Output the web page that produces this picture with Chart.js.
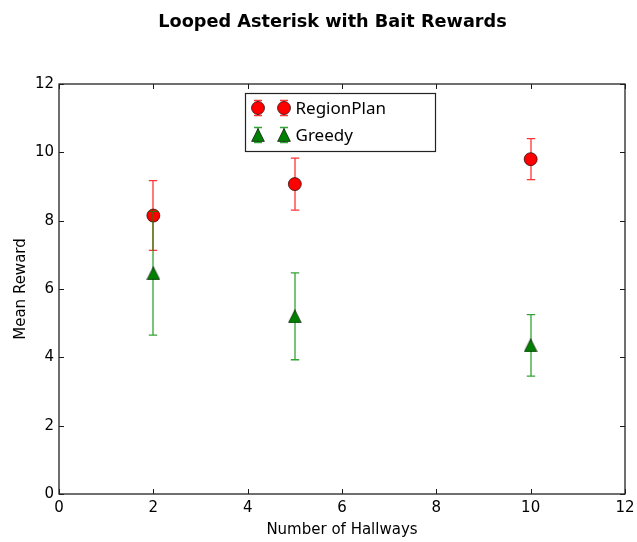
<!DOCTYPE html>
<html>
<head>
<meta charset="utf-8">
<title>Looped Asterisk with Bait Rewards</title>
<script src="https://cdn.jsdelivr.net/npm/chart.js"></script>
<style>
    html, body { margin: 0; padding: 0; background: #ffffff; }
    canvas { display: block; }
</style>
</head>
<body>
<canvas id="reward-chart" width="637" height="542"></canvas>
<script>
// Mean reward per hallway count, with error bar half-widths
const hallways = [2, 5, 10];
const regionPlanMean = [8.15, 9.07, 9.80];
const regionPlanErr = [1.02, 0.76, 0.60];
const greedyMean = [6.46, 5.20, 4.35];
const greedyErr = [1.81, 1.27, 0.90];

const xTickValues = [0, 2, 4, 6, 8, 10, 12];
const yTickValues = [0, 2, 4, 6, 8, 10, 12];

const chartTitle = 'Looped Asterisk with Bait Rewards';
const seriesNames = ['RegionPlan', 'Greedy'];

const TICK_FONT = 'DejaVu Sans';

// matplotlib-style "^" marker, centred on its bounding box
function makeTriangle(size, fill, stroke) {
    const c = document.createElement('canvas');
    c.width = size;
    c.height = size;
    const g = c.getContext('2d');
    g.beginPath();
    g.moveTo(size / 2, 0.6);
    g.lineTo(size - 0.6, size - 0.6);
    g.lineTo(0.6, size - 0.6);
    g.closePath();
    g.fillStyle = fill;
    g.fill();
    g.lineWidth = 0.8;
    g.strokeStyle = stroke;
    g.stroke();
    return c;
}

const greedyMarker = makeTriangle(14, '#008000', 'rgba(0,0,0,0.8)');

function toPoints(xs, ys) {
    return xs.map((x, i) => ({ x: x, y: ys[i] }));
}

function drawCircle(ctx, x, y, r, fill, stroke) {
    ctx.beginPath();
    ctx.arc(x, y, r, 0, Math.PI * 2);
    ctx.fillStyle = fill;
    ctx.fill();
    ctx.lineWidth = 0.8;
    ctx.strokeStyle = stroke;
    ctx.stroke();
}

function drawErrorBar(ctx, x, top, bottom, cap, color) {
    const px = Math.round(x);
    ctx.strokeStyle = color;
    ctx.lineWidth = 1.3;
    ctx.beginPath();
    ctx.moveTo(px, top);
    ctx.lineTo(px, bottom);
    ctx.moveTo(px - cap, top);
    ctx.lineTo(px + cap, top);
    ctx.moveTo(px - cap, bottom);
    ctx.lineTo(px + cap, bottom);
    ctx.stroke();
}

// Error bars go under each dataset's own markers
const errorBars = {
    id: 'errorBars',
    beforeDatasetDraw(chart, args) {
        const ds = chart.data.datasets[args.index];
        if (!ds.errors) return;
        const { x, y } = chart.scales;
        const ctx = chart.ctx;
        ctx.save();
        ds.data.forEach((pt, i) => {
            const px = x.getPixelForValue(pt.x);
            const top = y.getPixelForValue(pt.y + ds.errors[i]);
            const bottom = y.getPixelForValue(pt.y - ds.errors[i]);
            drawErrorBar(ctx, px, top, bottom, 4.2, ds.errorColor);
        });
        ctx.restore();
    }
};

// Boxed axes with inward ticks, the title and the legend
const frame = {
    id: 'frame',
    afterDraw(chart) {
        const ctx = chart.ctx;
        const { left, right, top, bottom } = chart.chartArea;
        const { x, y } = chart.scales;
        ctx.save();

        ctx.strokeStyle = '#1a1a1a';
        ctx.lineWidth = 1;
        ctx.beginPath();
        xTickValues.forEach(v => {
            const px = Math.round(x.getPixelForValue(v)) + 0.5;
            ctx.moveTo(px, bottom);
            ctx.lineTo(px, bottom - 5);
            ctx.moveTo(px, top);
            ctx.lineTo(px, top + 5);
        });
        yTickValues.forEach(v => {
            const py = Math.round(y.getPixelForValue(v)) + 0.5;
            ctx.moveTo(left, py);
            ctx.lineTo(left + 5, py);
            ctx.moveTo(right, py);
            ctx.lineTo(right - 5, py);
        });
        ctx.stroke();

        ctx.lineWidth = 1.3;
        ctx.strokeStyle = '#222222';
        ctx.strokeRect(left, top, right - left, bottom - top);

        // title
        ctx.fillStyle = '#000000';
        ctx.font = 'bold 17.7px "DejaVu Sans"';
        ctx.textAlign = 'center';
        ctx.textBaseline = 'alphabetic';
        ctx.fillText(chartTitle, chart.width / 2 + 14, 27);

        // legend
        const cx = (left + right) / 2;
        const boxL = Math.round(cx - 97) + 0.5;
        const boxT = top + 9.5;
        ctx.fillStyle = '#ffffff';
        ctx.fillRect(boxL, boxT, 190, 58);
        ctx.lineWidth = 1.2;
        ctx.strokeStyle = '#222222';
        ctx.strokeRect(boxL, boxT, 190, 58);

        const rows = [boxT + 14.5, boxT + 41.5];
        const handles = [boxL + 12, boxL + 38.5];
        chart.data.datasets.forEach((ds, i) => {
            const row = rows[i];
            handles.forEach(hx => {
                drawErrorBar(ctx, hx, row - 7.5, row + 7.5, 4, ds.errorColor);
                if (ds.pointStyle === 'circle') {
                    drawCircle(ctx, Math.round(hx), row, 6.5, ds.backgroundColor, ds.borderColor);
                } else {
                    ctx.drawImage(ds.pointStyle, Math.round(hx) - 7, row - 7);
                }
            });
            ctx.fillStyle = '#000000';
            ctx.font = '17px "Noto Sans"';
            ctx.textAlign = 'left';
            ctx.textBaseline = 'middle';
            ctx.fillText(ds.label, boxL + 50, row + 1);
        });

        ctx.restore();
    }
};

new Chart(document.getElementById('reward-chart'), {
    type: 'scatter',
    data: {
        datasets: [
            {
                label: seriesNames[0],
                data: toPoints(hallways, regionPlanMean),
                errors: regionPlanErr,
                errorColor: 'rgba(255, 0, 0, 0.8)',
                pointStyle: 'circle',
                pointRadius: 6.5,
                backgroundColor: '#ff0000',
                borderColor: 'rgba(0, 0, 0, 0.8)',
                borderWidth: 0.8,
                order: 1
            },
            {
                label: seriesNames[1],
                data: toPoints(hallways, greedyMean),
                errors: greedyErr,
                errorColor: 'rgba(0, 140, 0, 0.8)',
                pointStyle: greedyMarker,
                pointRadius: 7,
                backgroundColor: '#008000',
                borderColor: 'rgba(0, 0, 0, 0.8)',
                order: 0
            }
        ]
    },
    options: {
        responsive: false,
        animation: false,
        layout: {
            padding: { top: 84, right: 12, bottom: 0, left: 0 }
        },
        plugins: {
            legend: { display: false },
            title: { display: false },
            tooltip: { enabled: false }
        },
        scales: {
            x: {
                type: 'linear',
                min: 0,
                max: 12,
                afterBuildTicks: scale => {
                    scale.ticks = xTickValues.map(v => ({ value: v }));
                },
                afterFit: scale => {
                    scale.height = 48;
                    scale.paddingLeft = 0;
                    scale.paddingRight = 0;
                },
                grid: { display: false, drawTicks: false },
                border: { display: false },
                ticks: {
                    color: '#000000',
                    padding: 5,
                    maxRotation: 0,
                    font: { family: TICK_FONT, size: 15 }
                },
                title: {
                    display: true,
                    text: 'Number of Hallways',
                    color: '#000000',
                    padding: { top: 0, bottom: 2.5 },
                    font: { family: TICK_FONT, size: 15 }
                }
            },
            y: {
                type: 'linear',
                min: 0,
                max: 12,
                afterBuildTicks: scale => {
                    scale.ticks = yTickValues.map(v => ({ value: v }));
                },
                afterFit: scale => {
                    scale.width = 59;
                    scale.paddingTop = 0;
                    scale.paddingBottom = 0;
                },
                grid: { display: false, drawTicks: false },
                border: { display: false },
                ticks: {
                    color: '#000000',
                    padding: 5,
                    font: { family: TICK_FONT, size: 15 }
                },
                title: {
                    display: true,
                    text: 'Mean Reward',
                    color: '#000000',
                    padding: { top: 12, bottom: 0 },
                    font: { family: TICK_FONT, size: 15 }
                }
            }
        }
    },
    plugins: [errorBars, frame]
});
</script>
</body>
</html>
